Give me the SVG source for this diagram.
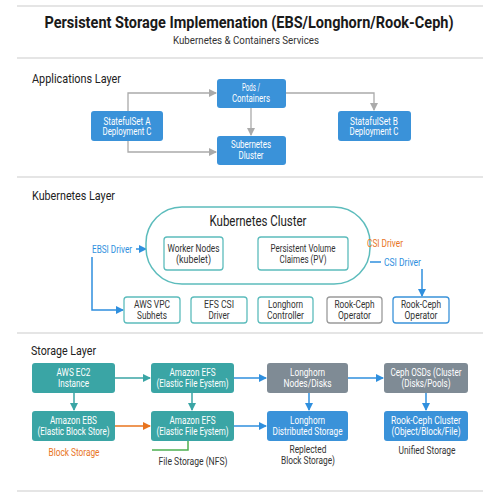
<svg xmlns="http://www.w3.org/2000/svg" width="500" height="500" viewBox="0 0 500 500">
<defs>
<style>
text{font-family:Roboto,"Liberation Sans",sans-serif;}
.t{font-size:17px;font-weight:bold;fill:#1a1a1a;text-anchor:middle}
.st{font-size:11px;fill:#333;text-anchor:middle}
.lay{font-size:13px;fill:#222}
.bw{font-size:10px;fill:#fff;text-anchor:middle}
.bd{font-size:10px;fill:#333;text-anchor:middle}
.sep{stroke:#ddd;stroke-width:1.5}
.blue{fill:#3a92d9}
.teal{fill:#3aa5a5}
.grey{fill:#7f8b95}
.ob{fill:#fff;stroke-width:1.3}
.g{stroke:#aaa;stroke-width:1.3;fill:none}
.bl{stroke:#2f8fde;stroke-width:1.5;fill:none}
.tl{stroke:#3aa5a5;stroke-width:1.5;fill:none}
.or{stroke:#e8741e;stroke-width:1.5;fill:none}
.gr{stroke:#4cb050;stroke-width:1.5;fill:none}
</style>
<marker id="ag" markerWidth="8" markerHeight="8" refX="7" refY="4" orient="auto" markerUnits="userSpaceOnUse"><path d="M0,0 L8,4 L0,8 z" fill="#aaa"/></marker>
<marker id="ab" markerWidth="8" markerHeight="8" refX="7" refY="4" orient="auto" markerUnits="userSpaceOnUse"><path d="M0,0 L8,4 L0,8 z" fill="#2f8fde"/></marker>
<marker id="at" markerWidth="8" markerHeight="8" refX="7" refY="4" orient="auto" markerUnits="userSpaceOnUse"><path d="M0,0 L8,4 L0,8 z" fill="#3aa5a5"/></marker>
<marker id="ao" markerWidth="8" markerHeight="8" refX="7" refY="4" orient="auto" markerUnits="userSpaceOnUse"><path d="M0,0 L8,4 L0,8 z" fill="#e8741e"/></marker>
</defs>
<rect width="500" height="500" fill="#fff"/>
<line class="sep" x1="17" y1="6" x2="483" y2="6"/>
<text class="t" transform="translate(249,28) scale(0.855,1)" x="0" y="0">Persistent Storage Implemenation (EBS/Longhorn/Rook-Ceph)</text>
<text class="st" x="246" y="44" textLength="146" lengthAdjust="spacingAndGlyphs">Kubernetes &amp; Containers Services</text>
<line class="sep" x1="17" y1="58" x2="483" y2="58"/>
<line class="sep" x1="17" y1="177" x2="483" y2="177"/>
<line class="sep" x1="17" y1="333" x2="483" y2="333"/>
<line class="sep" x1="17" y1="491" x2="483" y2="491"/>
<text class="lay" x="32" y="83" textLength="89" lengthAdjust="spacingAndGlyphs">Applications Layer</text>
<text class="lay" x="32" y="200" textLength="83" lengthAdjust="spacingAndGlyphs">Kubernetes Layer</text>
<text class="lay" x="31" y="355" textLength="65" lengthAdjust="spacingAndGlyphs">Storage Layer</text>
<g id="connectors">
<path class="g" d="M128,111 V93 H216" marker-end="url(#ag)"/>
<path class="g" d="M128,141 V152 H216" marker-end="url(#ag)"/>
<path class="g" d="M251,108 V135" marker-end="url(#ag)"/>
<path class="g" d="M286,93 H374 V110" marker-end="url(#ag)"/>
<path class="or" d="M223,253 H257" marker-end="url(#ao)"/>
<path class="or" d="M348,244 H365"/>
<path class="bl" d="M370,262 H381"/>
<path class="bl" d="M422,269 V296" marker-end="url(#ab)"/>
<path class="bl" d="M136,249 H146" marker-end="url(#ab)"/>
<path class="bl" d="M92,257 V310 H123" marker-end="url(#ab)"/>
<path class="tl" d="M115,378 H150" marker-end="url(#at)"/>
<path class="tl" d="M74,393 V410" marker-end="url(#at)"/>
<path class="tl" d="M192,393 V410" marker-end="url(#at)"/>
<path class="bl" d="M234,378 H266" marker-end="url(#ab)"/>
<path class="or" d="M115,426 H150" marker-end="url(#ao)"/>
<path class="bl" d="M234,426 H266" marker-end="url(#ab)"/>
<path class="bl" d="M309,393 V410" marker-end="url(#ab)"/>
<path class="bl" d="M348,378 H383" marker-end="url(#ab)"/>
<path class="bl" d="M426,393 V410" marker-end="url(#ab)"/>
<path class="gr" d="M188,441 V450 H152"/>
</g>
<g id="statefulset-a"><rect class="blue" x="91" y="111" width="72" height="30" rx="3"/><text class="bw" x="127" y="124.5" textLength="47" lengthAdjust="spacingAndGlyphs">StatefulSet A</text><text class="bw" x="127" y="135" textLength="49" lengthAdjust="spacingAndGlyphs">Deployment C</text></g>
<g id="pods"><rect class="blue" x="217" y="79" width="69" height="29" rx="3"/><text class="bw" x="251" y="91" textLength="18" lengthAdjust="spacingAndGlyphs">Pods /</text><text class="bw" x="251" y="102" textLength="38" lengthAdjust="spacingAndGlyphs">Containers</text></g>
<g id="subernetes"><rect class="blue" x="217" y="136" width="69" height="29" rx="3"/><text class="bw" x="251" y="148" textLength="40" lengthAdjust="spacingAndGlyphs">Subernetes</text><text class="bw" x="251" y="159" textLength="25" lengthAdjust="spacingAndGlyphs">Dluster</text></g>
<g id="statefulset-b"><rect class="blue" x="338" y="111" width="73" height="30" rx="3"/><text class="bw" x="374" y="124.5" textLength="48" lengthAdjust="spacingAndGlyphs">StatafulSet B</text><text class="bw" x="374" y="135" textLength="49" lengthAdjust="spacingAndGlyphs">Deployment C</text></g>
<g id="k8s-cluster"><rect x="146" y="207" width="224" height="77" rx="36" fill="#fff" stroke="#5cbcbc" stroke-width="1.5"/><text x="258" y="226" font-size="14" fill="#222" text-anchor="middle" textLength="97" lengthAdjust="spacingAndGlyphs">Kubernetes Cluster</text></g>
<g id="worker-nodes"><rect class="ob" x="164" y="237" width="59" height="33" rx="3" stroke="#5cbcbc"/><text class="bd" x="193.5" y="252" textLength="52" lengthAdjust="spacingAndGlyphs">Worker Nodes</text><text class="bd" x="193.5" y="263" textLength="35" lengthAdjust="spacingAndGlyphs">(kubelet)</text></g>
<g id="pv"><rect class="ob" x="258" y="237" width="90" height="33" rx="3" stroke="#5cbcbc"/><text class="bd" x="303" y="252" textLength="65" lengthAdjust="spacingAndGlyphs">Persistent Volume</text><text class="bd" x="303" y="263" textLength="47" lengthAdjust="spacingAndGlyphs">Claimes (PV)</text></g>
<text x="367" y="247" font-size="10" fill="#e8741e" textLength="36" lengthAdjust="spacingAndGlyphs">CSI Driver</text>
<text x="384" y="266" font-size="10" fill="#2f8fde" textLength="37" lengthAdjust="spacingAndGlyphs">CSI Driver</text>
<text x="92" y="253" font-size="10" fill="#2f8fde" textLength="40" lengthAdjust="spacingAndGlyphs">EBSI Driver</text>
<g id="aws-vpc"><rect class="ob" x="124" y="297" width="56" height="26" rx="3" stroke="#5cbcbc"/><text class="bd" x="152" y="308" textLength="36" lengthAdjust="spacingAndGlyphs">AWS VPC</text><text class="bd" x="152" y="319" textLength="30" lengthAdjust="spacingAndGlyphs">Subhets</text></g>
<g id="efs-csi"><rect class="ob" x="191" y="297" width="56" height="26" rx="3" stroke="#5cbcbc"/><text class="bd" x="219" y="308" textLength="30" lengthAdjust="spacingAndGlyphs">EFS CSI</text><text class="bd" x="219" y="319" textLength="21" lengthAdjust="spacingAndGlyphs">Driver</text></g>
<g id="longhorn-ctrl"><rect class="ob" x="258" y="297" width="55" height="26" rx="3" stroke="#5cbcbc"/><text class="bd" x="285.5" y="308" textLength="35" lengthAdjust="spacingAndGlyphs">Longhorn</text><text class="bd" x="285.5" y="319" textLength="37" lengthAdjust="spacingAndGlyphs">Controller</text></g>
<g id="rook-op-grey"><rect class="ob" x="327" y="297" width="55" height="26" rx="3" stroke="#9a9a9a"/><text class="bd" x="354.5" y="308" textLength="40" lengthAdjust="spacingAndGlyphs">Rook-Ceph</text><text class="bd" x="354.5" y="319" textLength="33" lengthAdjust="spacingAndGlyphs">Operator</text></g>
<g id="rook-op-blue"><rect class="ob" x="393" y="297" width="56" height="26" rx="3" stroke="#3a92d9"/><text class="bd" x="421" y="308" textLength="40" lengthAdjust="spacingAndGlyphs">Rook-Ceph</text><text class="bd" x="421" y="319" textLength="33" lengthAdjust="spacingAndGlyphs">Operator</text></g>
<g id="ec2"><rect class="teal" x="32" y="363" width="83" height="30" rx="3"/><text class="bw" x="73.5" y="376" textLength="34" lengthAdjust="spacingAndGlyphs">AWS EC2</text><text class="bw" x="73.5" y="387" textLength="31" lengthAdjust="spacingAndGlyphs">Instance</text></g>
<g id="efs1"><rect class="teal" x="151" y="363" width="83" height="30" rx="3"/><text class="bw" x="192.5" y="376" textLength="46" lengthAdjust="spacingAndGlyphs">Amazon EFS</text><text class="bw" x="192.5" y="387" textLength="72" lengthAdjust="spacingAndGlyphs">(Elastic File Eystem)</text></g>
<g id="longhorn-nodes"><rect class="grey" x="267" y="363" width="81" height="30" rx="3"/><text class="bw" x="307.5" y="376" textLength="35" lengthAdjust="spacingAndGlyphs">Longhorn</text><text class="bw" x="307.5" y="387" textLength="48" lengthAdjust="spacingAndGlyphs">Nodes/Disks</text></g>
<g id="ceph-osds"><rect class="grey" x="384" y="363" width="84" height="30" rx="3"/><text class="bw" x="426" y="376" textLength="71" lengthAdjust="spacingAndGlyphs">Ceph OSDs (Cluster</text><text class="bw" x="426" y="387" textLength="49" lengthAdjust="spacingAndGlyphs">(Disks/Pools)</text></g>
<g id="ebs"><rect class="teal" x="32" y="411" width="83" height="30" rx="3"/><text class="bw" x="73.5" y="424" textLength="47" lengthAdjust="spacingAndGlyphs">Amazon EBS</text><text class="bw" x="73.5" y="435" textLength="72" lengthAdjust="spacingAndGlyphs">(Elastic Block Store)</text></g>
<g id="efs2"><rect class="teal" x="151" y="411" width="83" height="30" rx="3"/><text class="bw" x="192.5" y="424" textLength="46" lengthAdjust="spacingAndGlyphs">Amazon EFS</text><text class="bw" x="192.5" y="435" textLength="72" lengthAdjust="spacingAndGlyphs">(Elastic File Eystem)</text></g>
<g id="longhorn-dist"><rect class="blue" x="267" y="411" width="81" height="30" rx="3"/><text class="bw" x="307.5" y="424" textLength="35" lengthAdjust="spacingAndGlyphs">Longhorn</text><text class="bw" x="307.5" y="435" textLength="70" lengthAdjust="spacingAndGlyphs">Distributed Storage</text></g>
<g id="rook-cluster"><rect class="blue" x="384" y="411" width="84" height="30" rx="3"/><text class="bw" x="426" y="424" textLength="70" lengthAdjust="spacingAndGlyphs">Rook-Ceph Cluster</text><text class="bw" x="426" y="435" textLength="69" lengthAdjust="spacingAndGlyphs">(Object/Block/File)</text></g>
<text x="74" y="456" font-size="10" fill="#e8741e" text-anchor="middle" textLength="51" lengthAdjust="spacingAndGlyphs">Block Storage</text>
<text class="bd" x="193" y="465" textLength="69" lengthAdjust="spacingAndGlyphs">File Storage (NFS)</text>
<text class="bd" x="308" y="453" textLength="37" lengthAdjust="spacingAndGlyphs">Replected</text>
<text class="bd" x="308" y="464" textLength="54" lengthAdjust="spacingAndGlyphs">Block Storage)</text>
<text class="bd" x="427" y="454" textLength="57" lengthAdjust="spacingAndGlyphs">Unified Storage</text>
</svg>
